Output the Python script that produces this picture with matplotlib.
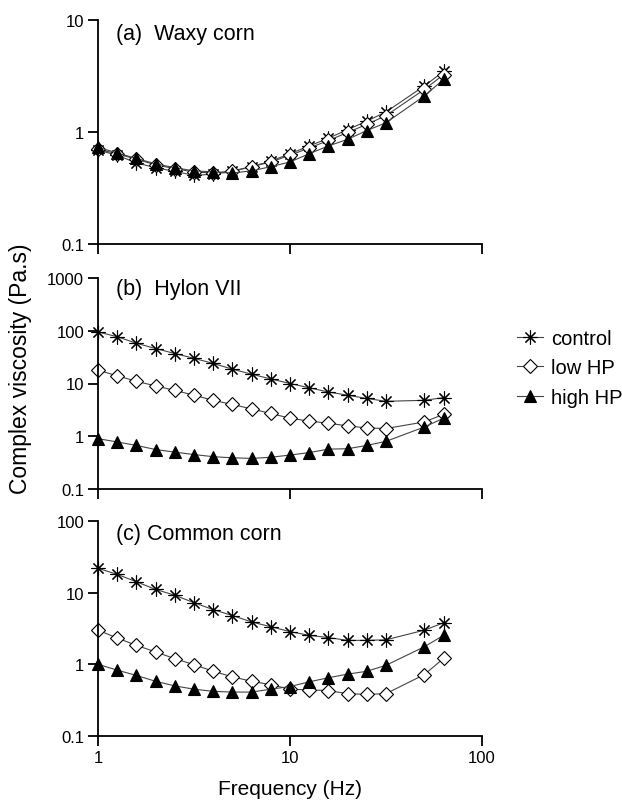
import matplotlib
matplotlib.use("Agg")
import matplotlib.pyplot as plt
from matplotlib.lines import Line2D

plt.rcParams['font.family'] = ['Liberation Sans', 'DejaVu Sans']

freq = [1.0, 1.259, 1.585, 1.995, 2.512, 3.162, 3.981, 5.012, 6.310, 7.943,
        10.0, 12.59, 15.85, 19.95, 25.12, 31.62, 50.12, 63.10]

# (a) Waxy corn
a_control = [0.69, 0.62, 0.53, 0.48, 0.445, 0.41, 0.42, 0.445, 0.49, 0.55,
             0.64, 0.75, 0.88, 1.05, 1.25, 1.51, 2.58, 3.48]
a_low = [0.70, 0.64, 0.57, 0.51, 0.47, 0.44, 0.43, 0.45, 0.49, 0.54,
         0.62, 0.72, 0.84, 0.99, 1.17, 1.40, 2.40, 3.25]
a_high = [0.73, 0.65, 0.58, 0.52, 0.48, 0.45, 0.44, 0.43, 0.45, 0.49,
          0.54, 0.64, 0.75, 0.86, 1.03, 1.21, 2.10, 2.95]

# (b) Hylon VII
b_control = [95, 77, 58, 46, 37, 30, 24, 18.7, 15, 12.2,
             10, 8.3, 6.9, 6.0, 5.2, 4.6, 4.8, 5.4]
b_low = [17.9, 14, 11, 9.0, 7.4, 6.0, 4.8, 4.0, 3.3, 2.7,
         2.2, 1.93, 1.77, 1.57, 1.44, 1.40, 1.87, 2.6]
b_high = [0.90, 0.78, 0.67, 0.56, 0.50, 0.45, 0.41, 0.39, 0.38, 0.40,
          0.44, 0.49, 0.57, 0.58, 0.67, 0.80, 1.5, 2.2]

# (c) Common corn
c_control = [21.9, 18, 14.2, 11.1, 9.2, 7.25, 5.8, 4.8, 3.9, 3.35,
             2.86, 2.54, 2.36, 2.16, 2.16, 2.2, 3.0, 3.8]
c_low = [3.0, 2.33, 1.84, 1.49, 1.2, 0.99, 0.80, 0.67, 0.58, 0.52,
         0.45, 0.44, 0.43, 0.39, 0.38, 0.39, 0.72, 1.21]
c_high = [1.0, 0.83, 0.70, 0.58, 0.50, 0.45, 0.42, 0.41, 0.41, 0.45,
          0.49, 0.57, 0.65, 0.73, 0.80, 0.97, 1.76, 2.54]

titles = ["(a)  Waxy corn", "(b)  Hylon VII", "(c) Common corn"]
ylims = [(0.1, 10), (0.1, 1000), (0.1, 100)]
yticks = [[0.1, 1, 10], [0.1, 1, 10, 100, 1000], [0.1, 1, 10, 100]]
yticklabels = [["0.1", "1", "10"], ["0.1", "1", "10", "100", "1000"],
               ["0.1", "1", "10", "100"]]
xticks = [1, 10, 100]
xticklabels = ["1", "10", "100"]
data = [(a_control, a_low, a_high), (b_control, b_low, b_high),
        (c_control, c_low, c_high)]
series_labels = ["control", "low HP", "high HP"]

fig = plt.figure(figsize=(6.22, 8.03), dpi=100)
W, H = 622, 803
left, right = 98, 482
boxes = [(21, 245), (279, 490), (522, 737)]

line_color = "#444444"
styles = [
    dict(marker=(8, 2, 0), markersize=10, markerfacecolor="none",
         markeredgecolor="black", markeredgewidth=0.8),
    dict(marker="D", markersize=7.5, markerfacecolor="white",
         markeredgecolor="black", markeredgewidth=0.8),
    dict(marker="^", markersize=9, markerfacecolor="black",
         markeredgecolor="black", markeredgewidth=0.8),
]

axes = []
for i, (top, bot) in enumerate(boxes):
    ax = fig.add_axes([left / W, 1 - bot / H, (right - left) / W, (bot - top) / H])
    axes.append(ax)
    for vals, st, lab in zip(data[i], styles, series_labels):
        ax.plot(freq, vals, color=line_color, linewidth=0.8, label=lab,
                clip_on=False, **st)
    ax.set_xscale("log")
    ax.set_yscale("log")
    ax.set_xlim(1, 100)
    ax.set_ylim(*ylims[i])
    ax.set_xticks(xticks)
    ax.set_yticks(yticks[i])
    ax.set_yticklabels(yticklabels[i])
    ax.minorticks_off()
    ax.spines["top"].set_visible(False)
    ax.spines["right"].set_visible(False)
    ax.spines["left"].set_linewidth(1.3)
    ax.spines["bottom"].set_linewidth(1.3)
    ax.tick_params(axis="both", direction="out", width=1.3, labelsize=12)
    ax.tick_params(axis="y", length=7.5, pad=2.5)
    ax.tick_params(axis="x", length=7, pad=3)
    if i < 2:
        ax.set_xticklabels([])
    else:
        ax.set_xticklabels(xticklabels)
    ax.text(0.048, 0.94 if i != 1 else 0.95, titles[i], transform=ax.transAxes,
            fontsize=15.5, va="center", ha="left")

axes[2].set_xlabel("Frequency (Hz)", fontsize=15, labelpad=10)
fig.text(21 / W, 1 - 369 / H, "Complex viscosity (Pa.s)", rotation=90,
         fontsize=16.5, va="center", ha="center")

handles = [Line2D([0], [0], color=line_color, linewidth=0.8, **st) for st in styles]
fig.legend(handles, series_labels, loc="center left",
           bbox_to_anchor=(499 / W, 1 - 369 / H), frameon=False, fontsize=14.5,
           handlelength=1.3, handletextpad=0.4, labelspacing=0.5)

fig.savefig("out.png", dpi=100)
